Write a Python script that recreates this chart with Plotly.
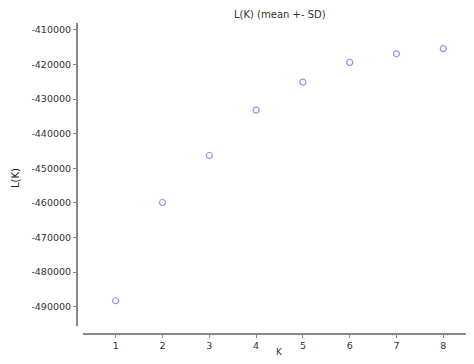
import plotly.graph_objects as go

K = [1, 2, 3, 4, 5, 6, 7, 8]
LK_mean = [-488300, -459900, -446300, -433200, -425100, -419400, -416900, -415400]

y_tick_vals = [-410000, -420000, -430000, -440000, -450000, -460000, -470000, -480000, -490000]
y_tick_text = ["-410000", "-420000", "-430000", "-440000", "-450000", "-460000", "-470000", "-480000", "-490000"]
x_tick_vals = [1, 2, 3, 4, 5, 6, 7, 8]

OFF = 8  # browser default body margin
W, H = 474 - OFF, 364 - OFF
def sx(v):
    return v - OFF
def sy(v):
    return v - OFF

ml, mr, mt, mb = sx(77), 0, sy(23), H - sy(334)
pw, ph = W - ml - mr, H - mt - mb

fig = go.Figure()
fig.add_trace(go.Scatter(
    x=K, y=LK_mean, mode="markers",
    marker=dict(symbol="circle-open", size=6, color="rgba(120,120,235,0.8)",
                line=dict(width=1.2)),
    showlegend=False,
))

axis_font = dict(family="DejaVu Sans", size=9.5, color="#333333")

def px_x(v):
    return (sx(v) - ml) / pw
def px_y(v):
    return (H - mb - sy(v)) / ph

fig.update_layout(
    width=W, height=H,
    margin=dict(l=ml, r=mr, t=mt, b=mb, pad=0, autoexpand=False),
    paper_bgcolor="white", plot_bgcolor="white",
    xaxis=dict(
        domain=[px_x(83), 1], anchor="free", position=0,
        range=[0.301, 8.656], tickvals=x_tick_vals,
        showgrid=False, zeroline=False,
        showline=True, linecolor="#8a8a8a", linewidth=2,
        ticks="outside", ticklen=3, tickcolor="#8a8a8a", tickwidth=1,
        tickfont=axis_font,
    ),
    yaxis=dict(
        domain=[px_y(326), 1], anchor="free", position=0,
        range=[-495600, -408000], tickvals=y_tick_vals, ticktext=y_tick_text,
        showgrid=False, zeroline=False,
        showline=True, linecolor="#8a8a8a", linewidth=2,
        ticks="outside", ticklen=3, tickcolor="#8a8a8a", tickwidth=1,
        tickfont=axis_font,
    ),
    annotations=[
        dict(text="L(K) (mean +- SD)", xref="paper", yref="paper",
             x=px_x(280), y=px_y(14), showarrow=False,
             font=dict(family="DejaVu Sans", size=10, color="#333333"),
             xanchor="center", yanchor="middle"),
        dict(text="L(K)", xref="paper", yref="paper",
             x=px_x(15), y=px_y(178), showarrow=False, textangle=-90,
             font=dict(family="DejaVu Sans", size=10, color="#222222"),
             xanchor="center", yanchor="middle"),
        dict(text="K", xref="paper", yref="paper",
             x=px_x(279), y=px_y(352), showarrow=False,
             font=dict(family="DejaVu Sans", size=9, color="#333333"),
             xanchor="center", yanchor="middle"),
    ],
)

fig.write_html("out.html")
